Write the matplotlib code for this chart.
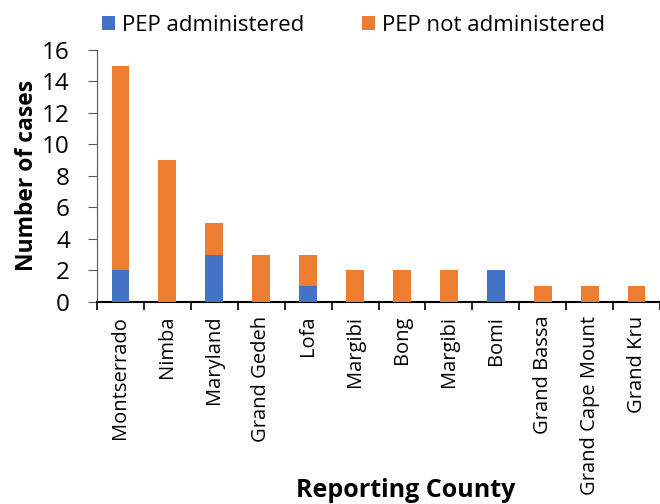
import matplotlib.pyplot as plt
import numpy as np

### DATA ###
counties = ["Montserrado", "Nimba", "Maryland", "Grand Gedeh", "Lofa", "Margibi",
            "Bong", "Margibi", "Bomi", "Grand Bassa", "Grand Cape Mount", "Grand Kru"]
pep_given = [2, 0, 3, 0, 1, 0, 0, 0, 2, 0, 0, 0]
pep_not_given = [13, 9, 2, 3, 2, 2, 2, 2, 0, 1, 1, 1]

BLUE = "#4472C4"
ORANGE = "#ED7D31"
AXIS_GRAY = "#595959"

plt.rcParams['font.family'] = ['Open Sans', 'DejaVu Sans']


def main():
    fig = plt.figure(figsize=(6.6, 5.04), dpi=100)
    ax = fig.add_axes([0.147, 0.401, 0.853, 0.50])

    x = np.arange(len(counties))
    ax.bar(x, pep_given, width=0.38, color=BLUE, label="PEP administered", zorder=3)
    ax.bar(x, pep_not_given, width=0.38, bottom=pep_given, color=ORANGE,
           label="PEP not administered", zorder=3)

    ax.set_xlim(-0.5, len(counties) - 0.5)
    ax.set_ylim(0, 16)
    ax.set_yticks(np.arange(0, 17, 2))
    ax.tick_params(axis="y", labelsize=17.5, length=6.5, color=AXIS_GRAY, pad=13)

    # category labels in the middle, tick marks between bars
    ax.set_xticks(x)
    ax.set_xticklabels(counties, rotation=90, fontsize=14.5)
    ax.tick_params(axis="x", length=0, pad=10)
    ax.set_xticks(np.arange(-0.5, len(counties), 1), minor=True)
    ax.tick_params(axis="x", which="minor", length=6, color="black", width=1.2)

    for side in ["top", "right"]:
        ax.spines[side].set_visible(False)
    ax.spines["left"].set_color(AXIS_GRAY)
    ax.spines["bottom"].set_color("black")
    ax.spines["bottom"].set_linewidth(1.5)

    ax.set_ylabel("Number of cases", fontsize=16.5, fontweight="bold", labelpad=2)
    fig.text(0.615, 0.002, "Reporting County", fontsize=18, fontweight="bold",
             ha="center", va="bottom")

    fig.legend(loc="upper center", bbox_to_anchor=(0.535, 1.01), ncol=2, frameon=False,
               fontsize=16, handlelength=0.6, handleheight=0.6, handletextpad=0.3,
               columnspacing=2.6)

    plt.savefig("out.png", dpi=100)


if __name__ == '__main__':
    main()
